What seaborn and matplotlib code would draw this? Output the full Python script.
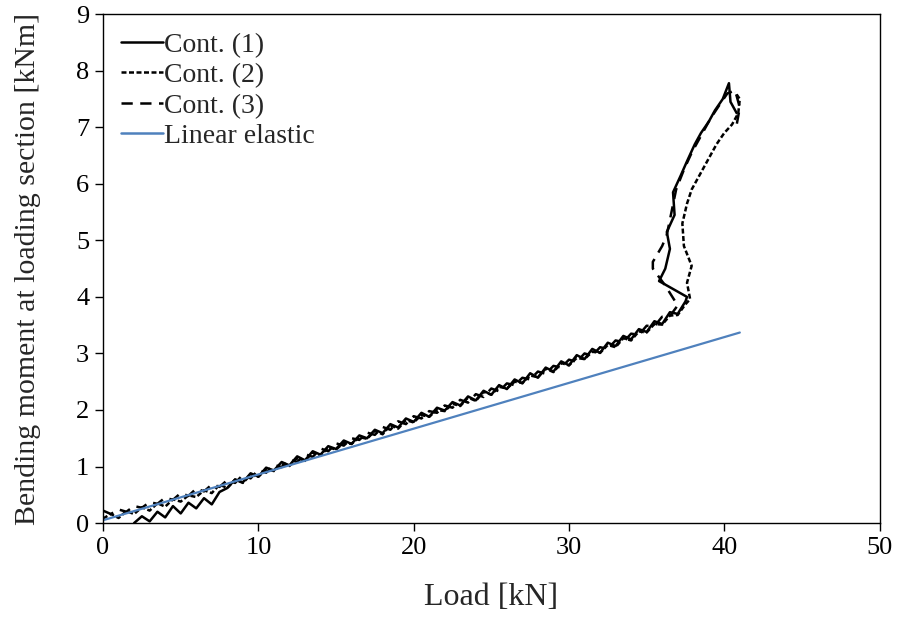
import numpy as np
import pandas as pd
import matplotlib
matplotlib.use("Agg")
import matplotlib.pyplot as plt
import seaborn as sns

# Cont. (1) - solid
c1_x = [2.0, 2.5, 3.0, 3.5, 4.0, 4.5, 5.0, 5.5, 6.0, 6.5, 7.0, 7.5,
        8.0, 8.5, 9.0, 9.5, 10.0, 10.5, 11.0, 11.5, 12.0, 12.5, 13.0, 13.5,
        14.0, 14.5, 15.0, 15.5, 16.0, 16.5, 17.0, 17.5, 18.0, 18.5, 19.0, 19.5,
        20.0, 20.5, 21.0, 21.5, 22.0, 22.5, 23.0, 23.5, 24.0, 24.5, 25.0, 25.5,
        26.0, 26.5, 27.0, 27.5, 28.0, 28.5, 29.0, 29.5, 30.0, 30.5, 31.0, 31.5,
        32.0, 32.5, 33.0, 33.5, 34.0, 34.5, 35.0, 35.5, 36.0, 36.5, 37.0, 37.5,
        37.6, 35.8, 36.2, 36.5, 36.3, 36.8, 36.7, 37.2, 37.6, 38.1, 38.5, 39.0,
        39.4, 39.9, 40.3, 40.4, 40.8]
c1_y = [0.00, 0.12, 0.03, 0.20, 0.10, 0.30, 0.17, 0.36, 0.26, 0.44, 0.33, 0.55,
        0.62, 0.77, 0.72, 0.88, 0.82, 0.98, 0.93, 1.08, 1.02, 1.18, 1.11, 1.27,
        1.21, 1.36, 1.31, 1.46, 1.40, 1.55, 1.50, 1.65, 1.59, 1.75, 1.69, 1.85,
        1.79, 1.95, 1.88, 2.04, 1.99, 2.14, 2.08, 2.24, 2.17, 2.34, 2.27, 2.44,
        2.37, 2.54, 2.47, 2.65, 2.57, 2.75, 2.68, 2.86, 2.79, 2.97, 2.90, 3.08,
        3.01, 3.19, 3.13, 3.31, 3.25, 3.43, 3.38, 3.57, 3.52, 3.73, 3.70, 3.92,
        4.00, 4.28, 4.50, 4.85, 5.15, 5.45, 5.85, 6.15, 6.40, 6.70, 6.90, 7.10,
        7.30, 7.50, 7.78, 7.45, 7.25]

# Cont. (2) - short dashes
c2_x = [0.0, 0.5, 1.0, 1.5, 2.0, 2.5, 3.0, 3.5, 4.0, 4.5, 5.0, 5.5,
        6.0, 6.5, 7.0, 7.5, 8.0, 8.5, 9.0, 9.5, 10.0, 10.5, 11.0, 11.5,
        12.0, 12.5, 13.0, 13.5, 14.0, 14.5, 15.0, 15.5, 16.0, 16.5, 17.0, 17.5,
        18.0, 18.5, 19.0, 19.5, 20.0, 20.5, 21.0, 21.5, 22.0, 22.5, 23.0, 23.5,
        24.0, 24.5, 25.0, 25.5, 26.0, 26.5, 27.0, 27.5, 28.0, 28.5, 29.0, 29.5,
        30.0, 30.5, 31.0, 31.5, 32.0, 32.5, 33.0, 33.5, 34.0, 34.5, 35.0, 35.5,
        36.0, 36.5, 37.0, 37.5, 37.8, 37.6, 37.9, 37.4, 37.3, 37.6, 37.9, 38.4,
        38.9, 39.5, 40.0, 40.5, 40.9, 41.0, 40.7]
c2_y = [0.08, 0.16, 0.09, 0.21, 0.16, 0.28, 0.22, 0.35, 0.29, 0.42, 0.38, 0.49,
        0.46, 0.58, 0.53, 0.68, 0.62, 0.77, 0.71, 0.85, 0.82, 0.95, 0.92, 1.04,
        1.01, 1.15, 1.10, 1.25, 1.19, 1.34, 1.30, 1.42, 1.40, 1.52, 1.49, 1.63,
        1.57, 1.73, 1.67, 1.82, 1.78, 1.91, 1.88, 2.00, 1.98, 2.11, 2.07, 2.22,
        2.16, 2.32, 2.27, 2.41, 2.38, 2.50, 2.48, 2.61, 2.58, 2.73, 2.67, 2.83,
        2.79, 2.92, 2.90, 3.03, 3.01, 3.15, 3.11, 3.27, 3.23, 3.39, 3.37, 3.52,
        3.51, 3.67, 3.68, 3.87, 3.96, 4.25, 4.55, 4.90, 5.30, 5.65, 5.90, 6.15,
        6.40, 6.70, 6.90, 7.05, 7.25, 7.50, 7.62]

# Cont. (3) - long dashes
c3_x = [0.0, 0.5, 1.0, 1.5, 2.0, 2.5, 3.0, 3.5, 4.0, 4.5, 5.0, 5.5,
        6.0, 6.5, 7.0, 7.5, 8.0, 8.5, 9.0, 9.5, 10.0, 10.5, 11.0, 11.5,
        12.0, 12.5, 13.0, 13.5, 14.0, 14.5, 15.0, 15.5, 16.0, 16.5, 17.0, 17.5,
        18.0, 18.5, 19.0, 19.5, 20.0, 20.5, 21.0, 21.5, 22.0, 22.5, 23.0, 23.5,
        24.0, 24.5, 25.0, 25.5, 26.0, 26.5, 27.0, 27.5, 28.0, 28.5, 29.0, 29.5,
        30.0, 30.5, 31.0, 31.5, 32.0, 32.5, 33.0, 33.5, 34.0, 34.5, 35.0, 35.5,
        36.0, 36.5, 37.0, 36.2, 35.4, 35.4, 36.0, 36.3, 36.6, 36.9, 37.4, 37.9,
        38.5, 39.1, 39.7, 40.2, 40.7, 41.0, 40.8]
c3_y = [0.22, 0.16, 0.24, 0.20, 0.30, 0.27, 0.37, 0.34, 0.45, 0.41, 0.53, 0.48,
        0.61, 0.56, 0.68, 0.64, 0.76, 0.71, 0.85, 0.79, 0.94, 0.89, 1.03, 0.99,
        1.12, 1.08, 1.22, 1.17, 1.32, 1.27, 1.41, 1.37, 1.50, 1.47, 1.60, 1.56,
        1.70, 1.65, 1.80, 1.75, 1.89, 1.85, 1.98, 1.95, 2.08, 2.04, 2.18, 2.13,
        2.28, 2.23, 2.38, 2.33, 2.47, 2.44, 2.57, 2.54, 2.68, 2.64, 2.78, 2.75,
        2.89, 2.85, 3.00, 2.96, 3.11, 3.08, 3.23, 3.20, 3.35, 3.33, 3.49, 3.48,
        3.65, 3.66, 3.85, 4.20, 4.50, 4.62, 4.90, 5.10, 5.50, 5.90, 6.25, 6.55,
        6.85, 7.15, 7.40, 7.60, 7.65, 7.35, 7.05]

# Linear elastic
le_x = [0.0, 41.0]
le_y = [0.05, 3.37]

series = [
    ("Cont. (1)", c1_x, c1_y),
    ("Cont. (2)", c2_x, c2_y),
    ("Cont. (3)", c3_x, c3_y),
    ("Linear elastic", le_x, le_y),
]
frames = []
for name, xs, ys in series:
    d = pd.DataFrame({"load": xs, "moment": ys})
    d["series"] = name
    frames.append(d)
df = pd.concat(frames, ignore_index=True)

sns.set_style("ticks")
plt.rcParams["font.family"] = ["Liberation Serif", "DejaVu Serif"]
plt.rcParams["xtick.direction"] = "out"
plt.rcParams["ytick.direction"] = "out"

fig = plt.figure(figsize=(9.04, 6.19), dpi=100)
ax = fig.add_axes([0.114, 0.155, 0.859, 0.822])

sns.lineplot(
    data=df, x="load", y="moment", hue="series", style="series",
    estimator=None, sort=False,
    palette={"Cont. (1)": "black", "Cont. (2)": "black",
             "Cont. (3)": "black", "Linear elastic": "#4f81bd"},
    dashes={"Cont. (1)": "", "Cont. (2)": (2.0, 1.0),
            "Cont. (3)": (4.5, 3.0), "Linear elastic": ""},
    linewidth=1.8, ax=ax,
)
for line in ax.get_lines():
    line.set_solid_joinstyle("round")
ax.get_lines()[3].set_linewidth(1.6)

ax.set_xlim(0, 50)
ax.set_ylim(0, 9)
ax.set_xticks([0, 10, 20, 30, 40, 50])
ax.set_yticks(range(0, 10))
ax.tick_params(labelsize=19, length=6, width=1, colors="black", pad=4)
for s in ax.spines.values():
    s.set_visible(True)
    s.set_color("black")
    s.set_linewidth(1)
ax.set_xlabel("Load [kN]", fontsize=23, labelpad=17)
ax.set_ylabel("Bending moment at loading section [kNm]", fontsize=21.5, labelpad=25)

leg = ax.legend(loc="upper left", frameon=False, fontsize=20, handlelength=1.5,
                handletextpad=0.05, labelspacing=0.18, borderaxespad=0.35,
                borderpad=0.3, title=None)
for h in leg.get_lines():
    h.set_linewidth(1.8)

fig.savefig("out.png", dpi=100)
